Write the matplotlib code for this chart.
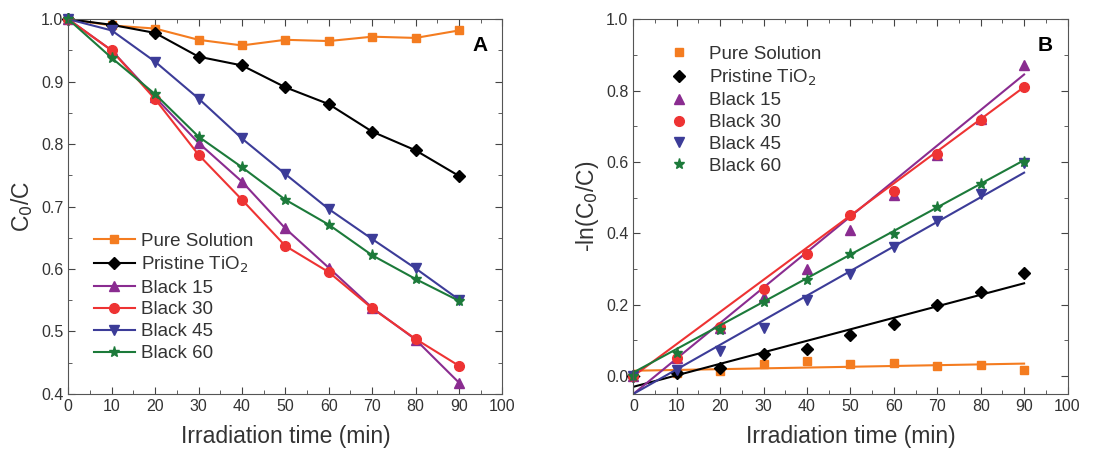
import numpy as np
import matplotlib
matplotlib.use('Agg')
import matplotlib.pyplot as plt
from matplotlib.ticker import MultipleLocator

plt.rcParams['font.family'] = ['Liberation Sans', 'DejaVu Sans']

# irradiation time (min)
time = [0, 10, 20, 30, 40, 50, 60, 70, 80, 90]

# C/C0 values
pure_solution = [1.0, 0.990, 0.985, 0.967, 0.958, 0.967, 0.965, 0.972, 0.970, 0.982]
pristine_tio2 = [1.0, 0.991, 0.978, 0.940, 0.926, 0.891, 0.864, 0.820, 0.790, 0.749]
black_15 = [1.0, 0.950, 0.875, 0.802, 0.740, 0.665, 0.602, 0.538, 0.487, 0.418]
black_30 = [1.0, 0.950, 0.872, 0.783, 0.711, 0.637, 0.595, 0.537, 0.488, 0.445]
black_45 = [1.0, 0.982, 0.932, 0.873, 0.809, 0.752, 0.696, 0.648, 0.601, 0.551]
black_60 = [1.0, 0.938, 0.880, 0.812, 0.763, 0.711, 0.671, 0.622, 0.584, 0.549]

# linear fit lines of panel B, value at t=0 and t=90
fit_t = [0, 90]
fit_start = [0.015, -0.03, -0.05, 0.0, -0.05, 0.01]
fit_end = [0.035, 0.26, 0.845, 0.81, 0.57, 0.605]

labels = ['Pure Solution', 'Pristine TiO$_2$', 'Black 15', 'Black 30', 'Black 45', 'Black 60']
series = [pure_solution, pristine_tio2, black_15, black_30, black_45, black_60]
colors = ['#f47c20', '#000000', '#8a2c90', '#ee3333', '#3c3c98', '#1c7a3a']
markers = ['s', 'D', '^', 'o', 'v', '*']
msizes = [6, 6, 7, 7, 7, 8]

TXT = '#333333'


def style_axis(ax, ymajor, yminor):
    ax.xaxis.set_major_locator(MultipleLocator(10))
    ax.xaxis.set_minor_locator(MultipleLocator(5))
    ax.yaxis.set_major_locator(MultipleLocator(ymajor))
    ax.yaxis.set_minor_locator(MultipleLocator(yminor))
    ax.tick_params(which='both', direction='in', top=True, right=True, colors='#444444',
                   labelcolor=TXT, labelsize=11.5)
    ax.tick_params(which='major', length=5)
    ax.tick_params(which='minor', length=3)
    for s in ax.spines.values():
        s.set_color('#555555')
    ax.set_xlabel('Irradiation time (min)', fontsize=16.5, color=TXT, labelpad=8)


fig = plt.figure(figsize=(11.19, 4.57), dpi=100)
ax1 = fig.add_axes([0.061, 0.138, 0.388, 0.82])
ax2 = fig.add_axes([0.566, 0.138, 0.388, 0.82])

# Panel A
for y, lab, c, m, ms in zip(series, labels, colors, markers, msizes):
    ax1.plot(time, y, color=c, marker=m, markersize=ms, lw=1.5, label=lab, clip_on=False)
ax1.set_xlim(0, 100)
ax1.set_ylim(0.4, 1.0)
style_axis(ax1, 0.1, 0.05)
ax1.set_ylabel('C$_0$/C', fontsize=16.5, color=TXT, labelpad=4)
ax1.text(0.965, 0.93, 'A', transform=ax1.transAxes, fontsize=15, fontweight='bold',
         ha='right', va='center')
ax1.legend(loc='lower left', bbox_to_anchor=(0.02, 0.04), frameon=False, fontsize=13.5,
           handlelength=2.2, handletextpad=0.3, labelspacing=0.25, labelcolor=TXT)

# Panel B: -ln(C/C0) with linear fits
for i, (y, lab, c, m, ms) in enumerate(zip(series, labels, colors, markers, msizes)):
    k = -np.log(np.array(y))
    ax2.plot(time, k, ls='none', color=c, marker=m, markersize=ms, label=lab, clip_on=False)
    ax2.plot(fit_t, [fit_start[i], fit_end[i]], color=c, lw=1.5)
ax2.set_xlim(0, 100)
ax2.set_ylim(-0.05, 1.0)
style_axis(ax2, 0.2, 0.1)
ax2.set_ylabel('-ln(C$_0$/C)', fontsize=16.5, color=TXT, labelpad=4)
ax2.text(0.965, 0.93, 'B', transform=ax2.transAxes, fontsize=15, fontweight='bold',
         ha='right', va='center')
ax2.legend(loc='upper left', bbox_to_anchor=(0.04, 0.975), frameon=False, fontsize=13.5,
           handlelength=1.2, handletextpad=1.0, labelspacing=0.25, labelcolor=TXT)

fig.savefig('out.png', dpi=100)
